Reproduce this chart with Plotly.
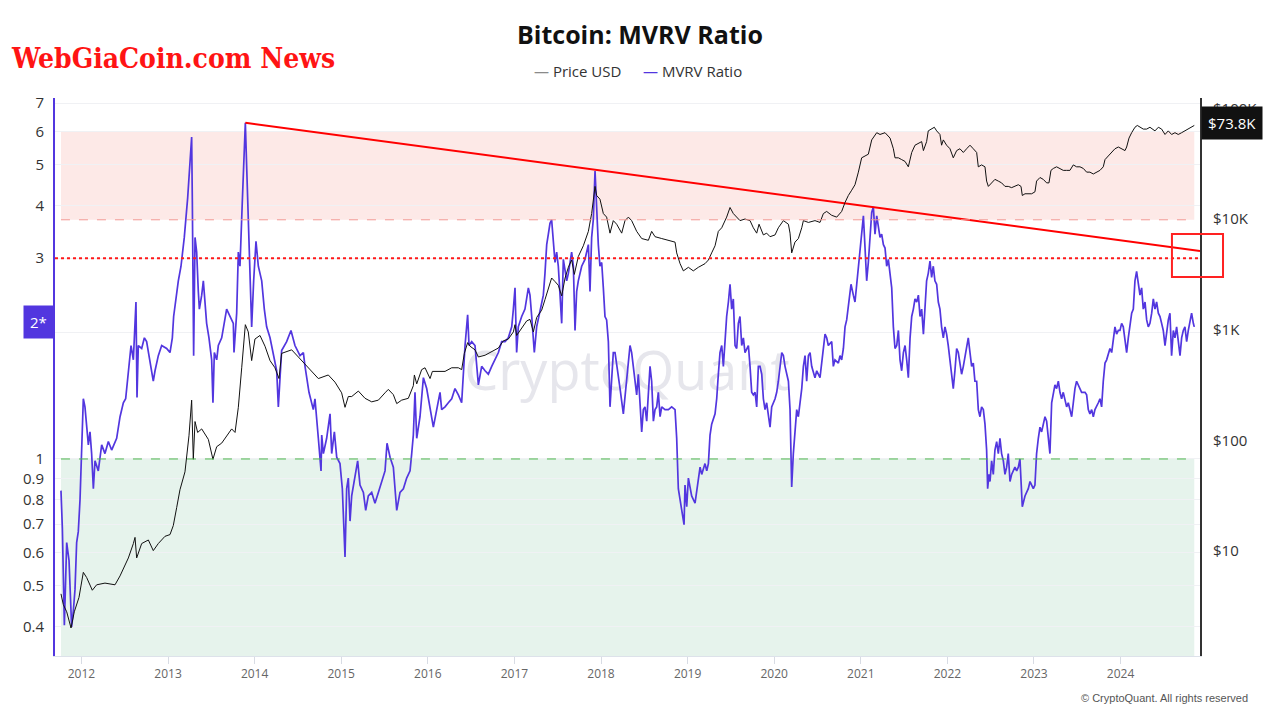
import math
import plotly.graph_objects as go

# ---------------- data (decimal years) ----------------
mvrv_dates = [
    2011.764, 2011.780, 2011.803, 2011.830, 2011.857, 2011.876, 2011.887, 2011.907, 2011.926, 2011.945,
    2011.964, 2011.984, 2011.995,
    2012.022, 2012.041, 2012.061, 2012.080, 2012.099, 2012.118, 2012.138, 2012.157, 2012.195, 2012.234,
    2012.272, 2012.311, 2012.349, 2012.407, 2012.446, 2012.484, 2012.511, 2012.542, 2012.573, 2012.600,
    2012.619, 2012.630, 2012.642, 2012.657, 2012.696, 2012.727, 2012.753, 2012.792, 2012.830, 2012.850,
    2012.888, 2012.927, 2012.984,
    2013.023, 2013.050, 2013.065, 2013.088, 2013.119, 2013.150, 2013.188, 2013.227, 2013.254, 2013.273,
    2013.281, 2013.288, 2013.296, 2013.312, 2013.331, 2013.350, 2013.362, 2013.389, 2013.408, 2013.446,
    2013.473, 2013.504, 2013.519, 2013.535, 2013.562, 2013.581, 2013.620, 2013.677, 2013.716, 2013.754,
    2013.762, 2013.793, 2013.812, 2013.831, 2013.858, 2013.877, 2013.893, 2013.908, 2013.927, 2013.947,
    2013.966, 2013.989,
    2014.016, 2014.043, 2014.082, 2014.112, 2014.139, 2014.178, 2014.197, 2014.235, 2014.255, 2014.274,
    2014.293, 2014.312, 2014.370, 2014.420, 2014.466, 2014.524, 2014.563, 2014.582, 2014.628, 2014.678,
    2014.697, 2014.717, 2014.736, 2014.767, 2014.775, 2014.794, 2014.832, 2014.871, 2014.890, 2014.921,
    2014.948, 2014.986,
    2015.013, 2015.044, 2015.063, 2015.082, 2015.102, 2015.121, 2015.159, 2015.190, 2015.217, 2015.256,
    2015.283, 2015.313, 2015.352, 2015.390, 2015.429, 2015.467, 2015.506, 2015.529, 2015.564, 2015.602,
    2015.641, 2015.679, 2015.718, 2015.756, 2015.795, 2015.814, 2015.833, 2015.852, 2015.872, 2015.910,
    2015.949, 2015.987,
    2016.026, 2016.064, 2016.103, 2016.141, 2016.160, 2016.199, 2016.237, 2016.276, 2016.314, 2016.353,
    2016.391, 2016.410, 2016.430, 2016.460, 2016.476, 2016.507, 2016.545, 2016.584, 2016.622, 2016.661,
    2016.699, 2016.738, 2016.776, 2016.815, 2016.853, 2016.892, 2016.930, 2016.969, 2016.988,
    2017.007, 2017.026, 2017.045, 2017.084, 2017.122, 2017.161, 2017.180, 2017.200, 2017.230, 2017.257,
    2017.296, 2017.334, 2017.353, 2017.373, 2017.392, 2017.411, 2017.430, 2017.450, 2017.469, 2017.488,
    2017.507, 2017.527, 2017.546, 2017.565, 2017.604, 2017.623, 2017.661, 2017.681, 2017.700, 2017.719,
    2017.738, 2017.777, 2017.815, 2017.854, 2017.873, 2017.892, 2017.911, 2017.931, 2017.950, 2017.969,
    2017.988,
    2018.008, 2018.027, 2018.046, 2018.065, 2018.085, 2018.104, 2018.123, 2018.142, 2018.162, 2018.181,
    2018.220, 2018.258, 2018.297, 2018.335, 2018.354, 2018.393, 2018.412, 2018.431, 2018.451, 2018.470,
    2018.489, 2018.508, 2018.528, 2018.547, 2018.566, 2018.585, 2018.605, 2018.624, 2018.643, 2018.662,
    2018.682, 2018.701, 2018.739, 2018.778, 2018.816, 2018.855, 2018.874, 2018.893, 2018.913, 2018.932,
    2018.959, 2018.970, 2018.990,
    2019.009, 2019.028, 2019.047, 2019.086, 2019.105, 2019.124, 2019.144, 2019.163, 2019.201, 2019.221,
    2019.240, 2019.259, 2019.278, 2019.317, 2019.336, 2019.355, 2019.374, 2019.394, 2019.413, 2019.432,
    2019.451, 2019.471, 2019.490, 2019.509, 2019.528, 2019.548, 2019.567, 2019.586, 2019.605, 2019.625,
    2019.644, 2019.663, 2019.702, 2019.721, 2019.740, 2019.759, 2019.779, 2019.798, 2019.817, 2019.836,
    2019.856, 2019.875, 2019.894, 2019.913, 2019.933, 2019.952, 2019.971,
    2020.010, 2020.029, 2020.048, 2020.087, 2020.106, 2020.125, 2020.144, 2020.164, 2020.183, 2020.202,
    2020.221, 2020.240, 2020.260, 2020.279, 2020.298, 2020.318, 2020.337, 2020.356, 2020.375, 2020.395,
    2020.414, 2020.433, 2020.471, 2020.491, 2020.529, 2020.568, 2020.587, 2020.606, 2020.625, 2020.664,
    2020.683, 2020.702, 2020.741, 2020.760, 2020.779, 2020.799, 2020.818, 2020.837, 2020.856, 2020.887,
    2020.914, 2020.933, 2020.953, 2020.972, 2020.991,
    2021.010, 2021.030, 2021.049, 2021.068, 2021.087, 2021.107, 2021.126, 2021.145, 2021.164, 2021.184,
    2021.203, 2021.222, 2021.241, 2021.261, 2021.280, 2021.299, 2021.318, 2021.338, 2021.357, 2021.376,
    2021.395, 2021.415, 2021.434, 2021.453, 2021.472, 2021.492, 2021.511, 2021.530, 2021.549, 2021.569,
    2021.588, 2021.607, 2021.626, 2021.646, 2021.665, 2021.684, 2021.703, 2021.723, 2021.742, 2021.760,
    2021.779, 2021.799, 2021.818, 2021.837, 2021.856, 2021.876, 2021.895, 2021.914, 2021.933, 2021.953,
    2021.972, 2021.991,
    2022.010, 2022.030, 2022.049, 2022.068, 2022.087, 2022.107, 2022.126, 2022.145, 2022.164, 2022.184,
    2022.203, 2022.222, 2022.241, 2022.261, 2022.280, 2022.299, 2022.318, 2022.338, 2022.357, 2022.376,
    2022.395, 2022.415, 2022.434, 2022.453, 2022.465, 2022.480, 2022.492, 2022.511, 2022.530, 2022.549,
    2022.569, 2022.588, 2022.607, 2022.626, 2022.646, 2022.665, 2022.684, 2022.703, 2022.723, 2022.742,
    2022.761, 2022.780, 2022.800, 2022.819, 2022.838, 2022.850, 2022.865, 2022.896, 2022.915, 2022.934,
    2022.954, 2022.973, 2022.992,
    2023.011, 2023.030, 2023.050, 2023.069, 2023.088, 2023.107, 2023.127, 2023.146, 2023.165, 2023.184,
    2023.204, 2023.223, 2023.242, 2023.261, 2023.281, 2023.300, 2023.319, 2023.338, 2023.358, 2023.377,
    2023.396, 2023.415, 2023.435, 2023.454, 2023.473, 2023.492, 2023.512, 2023.531, 2023.550, 2023.589,
    2023.608, 2023.627, 2023.646, 2023.666, 2023.685, 2023.704, 2023.723, 2023.743, 2023.762, 2023.781,
    2023.800, 2023.820, 2023.839, 2023.858, 2023.877, 2023.897, 2023.916, 2023.935, 2023.954, 2023.974,
    2023.993,
    2024.012, 2024.031, 2024.051, 2024.070, 2024.089, 2024.108, 2024.128, 2024.147, 2024.166, 2024.185,
    2024.205, 2024.224, 2024.243, 2024.262, 2024.282, 2024.301, 2024.320, 2024.339, 2024.359, 2024.378,
    2024.397, 2024.416, 2024.436, 2024.455, 2024.474, 2024.493, 2024.513, 2024.532, 2024.551, 2024.570,
    2024.589, 2024.609, 2024.628, 2024.647, 2024.666, 2024.686, 2024.705, 2024.724, 2024.743, 2024.763,
    2024.782, 2024.801, 2024.820, 2024.840, 2024.851,
]
mvrv_values = [
    0.841, 0.685, 0.403, 0.633, 0.574, 0.462, 0.399, 0.436, 0.490, 0.633,
    0.672, 0.801, 0.937,
    1.39, 1.33, 1.21, 1.08, 1.16, 1.03, 0.850, 0.99, 0.937, 1.08,
    1.03, 1.10, 1.05, 1.12, 1.26, 1.36, 1.39, 1.62, 1.86, 1.72,
    2.06, 2.36, 1.40, 1.86, 1.83, 1.94, 1.90, 1.72, 1.53, 1.62,
    1.76, 1.86, 1.83,
    1.79, 1.94, 2.18, 2.40, 2.65, 2.87, 3.36, 4.17, 4.97, 5.82,
    4.09, 2.27, 1.76, 3.36, 3.10, 2.50, 2.27, 2.45, 2.65, 2.10,
    1.94, 1.72, 1.36, 1.79, 1.72, 1.86, 1.94, 2.27, 2.18, 2.10,
    1.79, 2.22, 3.10, 2.87, 4.09, 5.48, 6.29, 4.97, 3.70, 2.87,
    2.06, 2.65,
    3.29, 2.87, 2.65, 2.27, 2.06, 1.94, 1.86, 1.72, 1.62, 1.33,
    1.59, 1.81, 1.90, 2.02, 1.86, 1.76, 1.79, 1.66, 1.44, 1.31,
    1.39, 1.26, 1.12, 0.937, 1.14, 1.03, 1.12, 1.28, 1.03, 1.16,
    1.01, 0.975,
    0.850, 0.585, 0.850, 0.901, 0.712, 0.817, 0.919, 0.99, 0.867, 0.833,
    0.755, 0.817, 0.833, 0.785, 0.833, 0.884, 0.937, 1.09, 1.01, 0.956,
    0.755, 0.833, 0.850, 0.901, 0.937, 1.03, 1.14, 1.44, 1.12, 1.26,
    1.56, 1.47,
    1.33, 1.19, 1.31, 1.44, 1.31, 1.33, 1.36, 1.39, 1.47, 1.42,
    1.36, 1.62, 1.86, 2.20, 1.86, 1.90, 1.86, 1.50, 1.66, 1.62,
    1.59, 1.66, 1.72, 1.79, 1.90, 1.90, 1.94, 2.06, 2.27,
    2.55, 1.79, 2.06, 2.18, 2.27, 2.55, 2.45, 2.18, 1.79, 2.06,
    2.27, 2.45, 2.76, 3.23, 3.42, 3.63, 3.70, 3.29, 2.93, 3.10,
    2.87, 2.45, 2.10, 2.98, 2.65, 2.76, 3.10, 2.87, 2.02, 2.50,
    2.65, 2.87, 2.98, 3.23, 2.50, 3.36, 3.70, 4.83, 3.93, 3.23,
    2.87,
    2.93, 2.55, 2.18, 2.14, 1.90, 1.33, 1.59, 1.79, 1.79, 1.66,
    1.47, 1.28, 1.56, 1.86, 1.79, 1.56, 1.42, 1.59, 1.31, 1.16,
    1.31, 1.33, 1.23, 1.47, 1.66, 1.53, 1.23, 1.31, 1.33, 1.44,
    1.26, 1.33, 1.31, 1.31, 1.33, 1.31, 1.12, 0.850, 0.801, 0.755,
    0.698, 0.867, 0.770,
    0.901, 0.850, 0.817, 0.785, 0.833, 0.884, 0.956, 0.919, 0.975, 0.937,
    0.975, 1.14, 1.21, 1.28, 1.39, 1.59, 1.79, 1.86, 1.66, 1.90,
    2.18, 2.36, 2.60, 2.27, 2.40, 1.86, 1.83, 2.10, 2.18, 1.86,
    1.94, 1.79, 1.86, 1.66, 1.44, 1.42, 1.44, 1.33, 1.66, 1.66,
    1.59, 1.39, 1.31, 1.36, 1.28, 1.19, 1.33,
    1.39, 1.44, 1.53, 1.79, 1.76, 1.66, 1.59, 1.53, 1.31, 0.858,
    1.03, 1.19, 1.31, 1.26, 1.36, 1.47, 1.66, 1.76, 1.53, 1.76,
    1.79, 1.66, 1.56, 1.62, 1.56, 1.86, 1.98, 1.94, 1.86, 1.90,
    1.66, 1.72, 1.69, 1.76, 1.72, 1.83, 2.06, 2.14, 2.31, 2.60,
    2.45, 2.36, 2.60, 2.87, 3.17,
    3.49, 3.78, 3.17, 2.65, 2.93, 3.36, 3.85, 3.97, 3.42, 3.78,
    3.56, 3.36, 3.42, 3.23, 3.17, 2.87, 2.98, 2.76, 2.55, 2.06,
    1.83, 1.86, 2.02, 1.72, 1.62, 1.79, 1.86, 1.72, 1.56, 1.94,
    2.18, 2.27, 2.40, 2.36, 2.45, 2.18, 2.27, 1.98, 2.36, 2.65,
    2.76, 2.95, 2.70, 2.87, 2.65, 2.60, 2.36, 2.27, 2.06, 1.94,
    2.06, 1.98,
    1.86, 1.72, 1.59, 1.47, 1.62, 1.83, 1.79, 1.66, 1.59, 1.66,
    1.76, 1.86, 1.94, 1.79, 1.66, 1.69, 1.53, 1.53, 1.31, 1.26,
    1.33, 1.31, 1.21, 1.05, 0.850, 0.919, 0.884, 0.99, 0.919, 1.05,
    1.10, 1.03, 1.12, 1.03, 0.99, 0.919, 0.956, 1.03, 0.884, 0.919,
    0.937, 0.956, 0.937, 0.956, 1.00, 0.884, 0.770, 0.817, 0.833, 0.850,
    0.884, 0.867, 0.850,
    0.867, 1.03, 1.12, 1.19, 1.16, 1.21, 1.26, 1.23, 1.14, 1.03,
    1.36, 1.42, 1.50, 1.47, 1.53, 1.44, 1.39, 1.44, 1.39, 1.33,
    1.36, 1.31, 1.26, 1.36, 1.47, 1.53, 1.50, 1.47, 1.44, 1.44,
    1.42, 1.31, 1.28, 1.31, 1.26, 1.31, 1.33, 1.36, 1.39, 1.33,
    1.53, 1.69, 1.72, 1.79, 1.83, 1.79, 1.94, 2.06, 1.98, 2.02,
    2.02,
    2.10, 2.06, 1.94, 1.79, 1.94, 2.06, 2.22, 2.27, 2.65, 2.79,
    2.60, 2.45, 2.55, 2.27, 2.36, 2.14, 2.06, 2.10, 2.22, 2.40,
    2.27, 2.36, 2.22, 2.18, 2.10, 2.02, 1.86, 2.02, 2.14, 2.22,
    1.76, 2.02, 1.94, 2.06, 1.90, 1.76, 1.94, 2.02, 2.06, 1.90,
    2.02, 2.10, 2.22, 2.10, 2.06,
]

price_dates = [
    2011.764, 2011.791, 2011.830, 2011.880, 2011.918, 2011.945, 2011.972,
    2012.022, 2012.061, 2012.126, 2012.176, 2012.272, 2012.388, 2012.446, 2012.503, 2012.542, 2012.600,
    2012.619, 2012.638, 2012.696, 2012.773, 2012.830, 2012.888, 2012.965,
    2013.023, 2013.061, 2013.100, 2013.138, 2013.196, 2013.242, 2013.273, 2013.292, 2013.312, 2013.342,
    2013.389, 2013.466, 2013.519, 2013.562, 2013.620, 2013.677, 2013.735, 2013.774, 2013.812, 2013.851,
    2013.893, 2013.927, 2013.966,
    2014.004, 2014.062, 2014.120, 2014.178, 2014.235, 2014.282, 2014.312, 2014.428, 2014.505, 2014.582,
    2014.659, 2014.736, 2014.851, 2014.928,
    2015.005, 2015.044, 2015.082, 2015.121, 2015.198, 2015.275, 2015.352, 2015.429, 2015.506, 2015.544,
    2015.602, 2015.641, 2015.698, 2015.775, 2015.833, 2015.845, 2015.872, 2015.929, 2015.968,
    2016.026, 2016.053, 2016.122, 2016.199, 2016.276, 2016.353, 2016.391, 2016.422, 2016.460, 2016.488,
    2016.545, 2016.584, 2016.661, 2016.738, 2016.815, 2016.872, 2016.930, 2016.988,
    2017.007, 2017.026, 2017.084, 2017.142, 2017.180, 2017.219, 2017.257, 2017.315, 2017.353, 2017.392,
    2017.430, 2017.469, 2017.507, 2017.546, 2017.585, 2017.623, 2017.661, 2017.692, 2017.738, 2017.796,
    2017.854, 2017.892, 2017.931, 2017.950, 2017.988,
    2018.027, 2018.065, 2018.104, 2018.142, 2018.181, 2018.239, 2018.277, 2018.316, 2018.354, 2018.412,
    2018.470, 2018.547, 2018.585, 2018.624, 2018.701, 2018.778, 2018.855, 2018.874, 2018.913, 2018.951,
    2019.009, 2019.066, 2019.124, 2019.201, 2019.240, 2019.278, 2019.317, 2019.355, 2019.394, 2019.451,
    2019.490, 2019.528, 2019.567, 2019.605, 2019.663, 2019.721, 2019.759, 2019.798, 2019.825, 2019.875,
    2019.913, 2019.952,
    2020.010, 2020.048, 2020.106, 2020.164, 2020.183, 2020.202, 2020.240, 2020.279, 2020.318, 2020.337,
    2020.395, 2020.471, 2020.529, 2020.568, 2020.606, 2020.664, 2020.722, 2020.779, 2020.818, 2020.856,
    2020.895, 2020.933, 2020.972,
    2021.010, 2021.049, 2021.087, 2021.126, 2021.184, 2021.222, 2021.280, 2021.338, 2021.376, 2021.395,
    2021.434, 2021.472, 2021.511, 2021.549, 2021.588, 2021.626, 2021.665, 2021.703, 2021.723, 2021.760,
    2021.779, 2021.818, 2021.849, 2021.876, 2021.914, 2021.933, 2021.953, 2021.991,
    2022.030, 2022.068, 2022.107, 2022.145, 2022.184, 2022.222, 2022.261, 2022.299, 2022.338, 2022.357,
    2022.395, 2022.434, 2022.453, 2022.473, 2022.511, 2022.549, 2022.588, 2022.626, 2022.665, 2022.703,
    2022.742, 2022.780, 2022.819, 2022.850, 2022.865, 2022.896, 2022.934, 2022.973,
    2023.011, 2023.030, 2023.069, 2023.107, 2023.146, 2023.173, 2023.196, 2023.223, 2023.261, 2023.300,
    2023.338, 2023.377, 2023.415, 2023.454, 2023.492, 2023.531, 2023.570, 2023.608, 2023.646, 2023.685,
    2023.723, 2023.762, 2023.800, 2023.820, 2023.858, 2023.897, 2023.935, 2023.974,
    2024.012, 2024.051, 2024.070, 2024.097, 2024.128, 2024.166, 2024.193, 2024.224, 2024.262, 2024.301,
    2024.339, 2024.397, 2024.436, 2024.474, 2024.513, 2024.551, 2024.589, 2024.628, 2024.666, 2024.705,
    2024.743, 2024.782, 2024.820, 2024.851,
]
price_values = [
    4.11, 3.29, 2.83, 2.02, 2.83, 3.29, 3.82,
    6.43, 5.76, 4.43, 4.96, 5.14, 4.96, 5.97, 7.47, 8.67, 11.7,
    13.3, 8.67, 11.7, 12.6, 10.1, 11.7, 13.6,
    14.1, 17.0, 24.7, 35.8, 52.0, 110, 231, 67.5, 148, 118,
    127, 102, 67.5, 87.7, 94.5, 110, 127, 118, 199, 453,
    1110, 955, 526,
    823, 887, 709, 526, 453, 362, 611, 658, 567, 488,
    420, 362, 390, 336,
    269, 199, 249, 249, 279, 240, 223, 231, 269, 289,
    259, 215, 231, 240, 312, 390, 324, 436, 453,
    362, 420, 420, 420, 453, 453, 436, 611, 764, 709,
    658, 567, 588, 634, 683, 793, 823, 955,
    1110, 887, 1030, 1200, 1240, 955, 1290, 1500, 1870, 2340,
    2930, 2720, 2520, 2020, 2930, 3660, 4260, 3160, 4580, 5730,
    7730, 11200, 19700, 16300, 15100,
    11200, 10400, 7450, 9670, 8970, 7450, 9670, 10400, 9670, 7730,
    6660, 6420, 7730, 6920, 6660, 6420, 6180, 4940, 3950, 3400,
    3660, 3400, 3660, 3950, 4260, 4940, 5730, 7730, 8330, 10400,
    12700, 11200, 10400, 9670, 10000, 9670, 8330, 7450, 8970, 7180,
    7450, 6920,
    7180, 8330, 9670, 8970, 7450, 4940, 6180, 6660, 8330, 9670,
    9310, 9670, 9310, 11200, 11700, 10800, 10400, 11700, 14100, 16300,
    18200, 20400, 26500,
    35700, 37100, 38500, 51800, 60200, 58000, 60200, 53800, 43100, 35700,
    35700, 34400, 33100, 29600, 39900, 46400, 48100, 50000, 41500, 50000,
    62500, 64900, 67400, 62500, 58000, 46400, 51800, 46400,
    43100, 35700, 41500, 43100, 39900, 43100, 46400, 43100, 39900, 29600,
    30800, 29600, 22000, 19700, 21200, 22800, 22000, 21200, 19700, 19700,
    19200, 19700, 20400, 19700, 16300, 16900, 16900, 16900,
    17600, 22000, 23700, 22800, 21200, 21200, 27500, 28600, 29600, 28600,
    27500, 27500, 27500, 30800, 29600, 29600, 28600, 26500, 26500, 25500,
    26500, 27500, 29600, 34400, 37100, 39900, 43100, 44700,
    43100, 41500, 44700, 53800, 60200, 67400, 70000, 67400, 64900, 64900,
    67400, 62500, 67400, 64900, 58000, 62500, 58000, 60200, 58000, 60200,
    62500, 64900, 67400, 70000,
]

# guide levels
band_high = [3.7, 6.0]      # red (overvalued) zone
band_low = [0.3, 1.0]       # green (undervalued) zone
level_red = 3.0
trend_dates = [2013.893, 2024.917]
trend_values = [6.29, 3.12]
year_ticks = list(range(2012, 2025))
mvrv_ticks = [0.4, 0.5, 0.6, 0.7, 0.8, 0.9, 1, 2, 3, 4, 5, 6, 7]
mvrv_ticktext = ["0.4", "0.5", "0.6", "0.7", "0.8", "0.9", "1", "", "3", "4", "5", "6", "7"]
price_ticks = [10, 100, 1000, 10000, 100000]
price_ticktext = ["$10", "$100", "$1K", "$10K", "$100K"]
last_price_label = "$73.8K"
last_price = 73800
last_mvrv_label = "2*"
last_mvrv = 2.11

BLUE = "#5236df"
FONT = "Open Sans, Noto Sans, DejaVu Sans, sans-serif"

fig = go.Figure()

# watermark (behind the lines)
fig.add_trace(go.Scatter(
    x=[2018.3], y=[1.57], mode="text", text=["CryptoQuant"],
    textfont=dict(size=54, color="#e6e6ec", family="Open Sans"),
    hoverinfo="skip", showlegend=False, yaxis="y",
))

fig.add_trace(go.Scatter(
    x=mvrv_dates, y=mvrv_values, mode="lines", name="MVRV Ratio",
    line=dict(color=BLUE, width=1.7), yaxis="y", showlegend=False,
))

fig.add_trace(go.Scatter(
    x=trend_dates, y=trend_values, mode="lines", line=dict(color="#ff0000", width=2),
    yaxis="y", showlegend=False, hoverinfo="skip", cliponaxis=False,
))

fig.add_trace(go.Scatter(
    x=price_dates, y=price_values, mode="lines", name="Price USD",
    line=dict(color="#111111", width=1), yaxis="y2", showlegend=False,
))

x_first, x_last = mvrv_dates[0], mvrv_dates[-1]
shapes = [
    dict(type="rect", xref="x", yref="y", x0=x_first, x1=x_last, y0=band_high[0], y1=band_high[1],
         fillcolor="#fde9e7", line=dict(width=0), layer="below"),
    dict(type="rect", xref="x", yref="y", x0=x_first, x1=x_last, y0=band_low[0], y1=band_low[1],
         fillcolor="#e6f3ec", line=dict(width=0), layer="below"),
    dict(type="line", xref="x", yref="y", x0=x_first, x1=x_last, y0=band_high[0], y1=band_high[0],
         line=dict(color="#f29a94", width=1, dash="dash")),
    dict(type="line", xref="x", yref="y", x0=x_first, x1=x_last, y0=band_low[1], y1=band_low[1],
         line=dict(color="#4fb84f", width=1, dash="dash")),
    dict(type="line", xref="paper", yref="y", x0=0, x1=1, y0=level_red, y1=level_red,
         line=dict(color="#ff1a1a", width=2, dash="dot")),
    dict(type="rect", xref="paper", yref="paper", x0=0.9755, x1=1.0201, y0=0.6792, y1=0.7563,
         line=dict(color="#ff2222", width=2), fillcolor="rgba(0,0,0,0)"),
]

annotations = [
    dict(text="WebGiaCoin.com News", xref="paper", yref="paper", x=-0.0402, y=1.0699,
         xanchor="left", yanchor="middle", showarrow=False,
         font=dict(family="DejaVu Serif Condensed, DejaVu Serif", size=28, color="#ff1414", weight="bold")),
    dict(text="<b>Bitcoin: MVRV Ratio</b>", xref="paper", yref="paper", x=0.5109, y=1.1140,
         xanchor="center", yanchor="middle", showarrow=False,
         font=dict(family=FONT, size=25, color="#111111")),
    dict(text="<span style='color:#8a8a8a'>—</span> Price USD", xref="paper", yref="paper",
         x=0.4563, y=1.0484, xanchor="center", yanchor="middle", showarrow=False,
         font=dict(family=FONT, size=15, color="#333333")),
    dict(text="<span style='color:%s'>—</span> MVRV Ratio" % BLUE, xref="paper", yref="paper",
         x=0.5568, y=1.0484, xanchor="center", yanchor="middle", showarrow=False,
         font=dict(family=FONT, size=15, color="#333333")),
    dict(text="© CryptoQuant. All rights reserved", xref="paper", yref="paper", x=1.0437, y=-0.0753,
         xanchor="right", yanchor="middle", showarrow=False,
         font=dict(family="Liberation Sans, Arial", size=11, color="#555555")),
    dict(text=last_price_label, xref="paper", yref="y2", x=1.0005, y=math.log10(last_price),
         xanchor="left", yanchor="middle", showarrow=False, bgcolor="#111111", borderpad=6,
         font=dict(family=FONT, size=15, color="#ffffff")),
    dict(text=last_mvrv_label, xref="paper", yref="y", x=-0.0009, y=math.log10(last_mvrv),
         xanchor="right", yanchor="middle", showarrow=False, bgcolor=BLUE, borderpad=6,
         font=dict(family=FONT, size=15, color="#ffffff")),
]

fig.update_layout(
    width=1280, height=718,
    # the page has an 8px body margin, so the plot box is offset to land at x 55-1200, y 98-656
    margin=dict(l=47, r=88, t=90, b=70),
    paper_bgcolor="white", plot_bgcolor="white",
    showlegend=False,
    font=dict(family=FONT, color="#333333"),
    shapes=shapes, annotations=annotations,
    xaxis=dict(range=[2011.695, 2024.917], tickvals=year_ticks, ticktext=[str(y) for y in year_ticks],
               showgrid=False, zeroline=False, ticks="outside", ticklen=7, tickcolor="#d8dce4",
               showline=True, linecolor="#dde2ea", linewidth=1,
               tickfont=dict(size=12, color="#666666")),
    yaxis=dict(type="log", range=[-0.468, 0.8575], tickvals=mvrv_ticks, ticktext=mvrv_ticktext,
               showgrid=True, gridcolor="#f0f1f4", zeroline=False,
               showline=True, linecolor=BLUE, linewidth=2, ticks="",
               ticklabelstandoff=6, tickfont=dict(size=15, color="#333333")),
    yaxis2=dict(type="log", overlaying="y", side="right", range=[0.0524, 5.093],
                tickvals=price_ticks, ticktext=price_ticktext, showgrid=False, zeroline=False,
                showline=True, linecolor="#333333", linewidth=2, ticks="",
                ticklabelstandoff=8, tickfont=dict(size=15, color="#333333")),
)

fig.write_html("out.html")
